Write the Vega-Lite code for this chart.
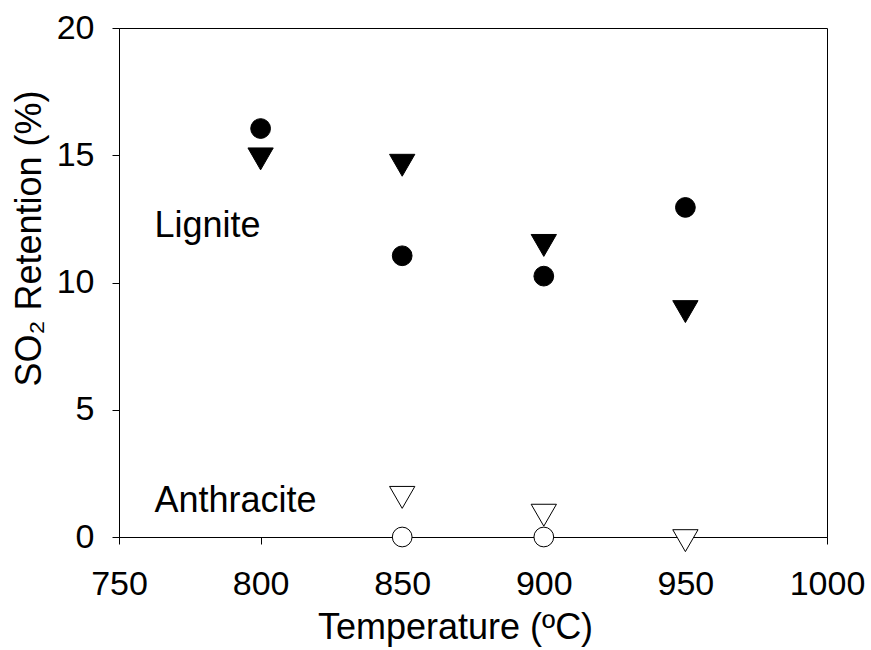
{
  "$schema": "https://vega.github.io/schema/vega-lite/v6.json",
  "width": 708,
  "height": 509,
  "autosize": "none",
  "padding": {"left": 119, "top": 28, "right": 44, "bottom": 113},
  "background": "white",
  "config": {
    "view": {"stroke": "black", "strokeWidth": 1},
    "font": "Liberation Sans",
    "axis": {
      "domainColor": "black",
      "tickColor": "black",
      "labelColor": "black",
      "titleColor": "black",
      "labelFont": "Liberation Sans",
      "titleFont": "Liberation Sans",
      "labelFontSize": 34,
      "titleFontSize": 36,
      "titleFontWeight": "normal",
      "tickSize": 7,
      "grid": false,
      "labelFlush": false,
      "labelOverlap": false
    }
  },
  "datasets": {
    "points": [
      {"temperature": 800, "retention": 16.05, "coal": "Lignite", "marker": "circle"},
      {"temperature": 850, "retention": 11.05, "coal": "Lignite", "marker": "circle"},
      {"temperature": 900, "retention": 10.25, "coal": "Lignite", "marker": "circle"},
      {"temperature": 950, "retention": 12.95, "coal": "Lignite", "marker": "circle"},
      {"temperature": 800, "retention": 15.0, "coal": "Lignite", "marker": "triangle"},
      {"temperature": 850, "retention": 14.75, "coal": "Lignite", "marker": "triangle"},
      {"temperature": 900, "retention": 11.6, "coal": "Lignite", "marker": "triangle"},
      {"temperature": 950, "retention": 9.0, "coal": "Lignite", "marker": "triangle"},
      {"temperature": 850, "retention": 0.0, "coal": "Anthracite", "marker": "circle"},
      {"temperature": 900, "retention": 0.0, "coal": "Anthracite", "marker": "circle"},
      {"temperature": 850, "retention": 1.7, "coal": "Anthracite", "marker": "triangle"},
      {"temperature": 900, "retention": 1.0, "coal": "Anthracite", "marker": "triangle"},
      {"temperature": 950, "retention": 0.0, "coal": "Anthracite", "marker": "triangle"}
    ],
    "labels": [
      {"temperature": 762.5, "retention": 11.8, "text": "Lignite"},
      {"temperature": 762.5, "retention": 1.0, "text": "Anthracite"}
    ]
  },
  "layer": [
    {
      "data": {"name": "points"},
      "mark": {"type": "point", "filled": true, "stroke": "black", "strokeWidth": 1, "opacity": 1},
      "encoding": {
        "x": {
          "field": "temperature",
          "type": "quantitative",
          "scale": {"domain": [750, 1000], "nice": false, "zero": false},
          "axis": {
            "values": [750, 800, 850, 900, 950, 1000],
            "format": "d",
            "title": "Temperature (ºC)",
            "labelPadding": 23,
            "titleX": 336,
            "titleY": 101,
            "titleAlign": "center",
            "titleBaseline": "alphabetic"
          }
        },
        "y": {
          "field": "retention",
          "type": "quantitative",
          "scale": {"domain": [0, 20], "nice": false},
          "axis": {
            "values": [0, 5, 10, 15, 20],
            "format": "d",
            "title": "SO₂ Retention (%)",
            "labelPadding": 18,
            "titleAngle": -90,
            "titleX": -79,
            "titleY": 210,
            "titleAlign": "center",
            "titleBaseline": "alphabetic"
          }
        },
        "shape": {
          "field": "marker",
          "type": "nominal",
          "scale": {"domain": ["circle", "triangle"], "range": ["circle", "M-1,-0.577L1,-0.577L0,1.155Z"]},
          "legend": null
        },
        "size": {
          "field": "marker",
          "type": "nominal",
          "scale": {"domain": ["circle", "triangle"], "range": [390, 640]},
          "legend": null
        },
        "fill": {
          "field": "coal",
          "type": "nominal",
          "scale": {"domain": ["Lignite", "Anthracite"], "range": ["black", "white"]},
          "legend": null
        }
      }
    },
    {
      "data": {"name": "labels"},
      "mark": {"type": "text", "align": "left", "baseline": "alphabetic", "fontSize": 36, "font": "Liberation Sans", "color": "black"},
      "encoding": {
        "x": {"field": "temperature", "type": "quantitative"},
        "y": {"field": "retention", "type": "quantitative"},
        "text": {"field": "text"}
      }
    }
  ]
}
